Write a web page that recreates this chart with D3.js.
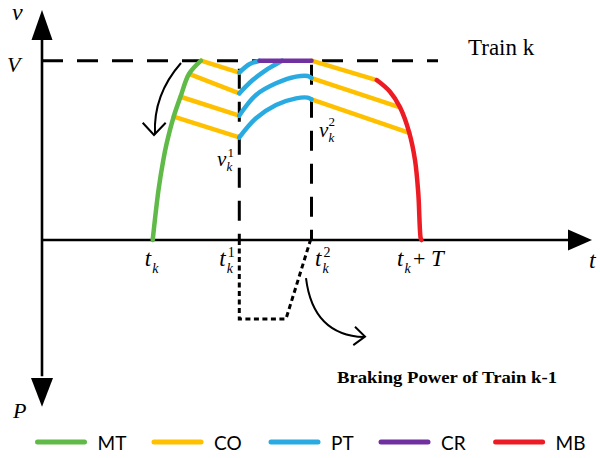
<!DOCTYPE html>
<html><head><meta charset="utf-8">
<script src="https://cdn.jsdelivr.net/npm/d3@7"></script>
<style>body{margin:0;background:#fff}svg{display:block}</style>
</head><body>
<svg id="c" width="600" height="458"></svg>
<script>
// ---- data (time units, speed as fraction of V) ----
const speedV = 1;
const tickNames = ["t_k", "t_k^1", "t_k^2", "t_k + T"];
const tickTimes = [110.7, 197.3, 269.5, 379.5];
const mtCurve = [[110.7,0],[116.5,0.279],[121.3,0.446],[124.7,0.539],[131.7,0.688],[138.5,0.799],[147,0.926],[159,1]];
const coLeft = [
  [[159,1],[197.3,0.934]],
  [[147,0.926],[197.3,0.818]],
  [[138.5,0.799],[197.3,0.694]],
  [[131.7,0.688],[197.3,0.572]]
];
const ptCurves = [
  [[197.3,0.934],[207.3,0.98],[217.5,1]],
  [[197.3,0.818],[210.7,0.892],[224,0.948],[237.3,0.991],[240,1]],
  [[197.3,0.694],[214,0.809],[234,0.874],[254,0.911],[265.7,0.915],[269.5,0.903]],
  [[197.3,0.572],[214,0.679],[234,0.753],[254,0.790],[265.7,0.794],[269.5,0.784]]
];
const crLine = [[217.5,1],[269.5,1]];
const coRight = [
  [[269.5,1],[334.7,0.892]],
  [[269.5,0.903],[358,0.740]],
  [[269.5,0.784],[367.3,0.598]]
];
const mbCurve = [[334.7,0.892],[348,0.827],[358,0.740],[367.3,0.598],[373,0.446],[376.3,0.260],[378.7,0.01],[379.5,0]];
const brakingPower = [[197.3,0],[197.3,-0.44],[244,-0.44],[268.5,0]];
const legendNames = ["MT", "CO", "PT", "CR", "MB"];
const legendColors = ["#5FBA48", "#FFC000", "#29ABE2", "#7030A0", "#ED1C24"];

// ---- scales ----
const x = d3.scaleLinear().domain([0, 548]).range([42, 590]);
const y = d3.scaleLinear().domain([0, 1]).range([240, 60.7]);
const svg = d3.select("#c");
const line = d3.line().x(d => x(d[0])).y(d => y(d[1]));
const smooth = d3.line().x(d => x(d[0])).y(d => y(d[1])).curve(d3.curveCatmullRom.alpha(0.5));
const col = n => legendColors[legendNames.indexOf(n)];
const serif = "'Liberation Serif','Times New Roman',serif";

// ---- dashed guides ----
svg.append("path").attr("d", line([[0,speedV],[396,speedV]]))
  .attr("stroke","#000").attr("stroke-width",3).attr("stroke-dasharray","21,14").attr("fill","none");
svg.append("path").attr("d", line([[tickTimes[1],0.955],[tickTimes[1],0]]))
  .attr("stroke","#000").attr("stroke-width",3).attr("stroke-dasharray","20,13").attr("fill","none");
svg.append("path").attr("d", line([[tickTimes[2],speedV],[tickTimes[2],0]]))
  .attr("stroke","#000").attr("stroke-width",3).attr("stroke-dasharray","20,13").attr("stroke-dashoffset",-4).attr("fill","none");
svg.append("path").attr("d", line(brakingPower))
  .attr("stroke","#000").attr("stroke-width",3).attr("stroke-dasharray","5,3.5").attr("fill","none");

// ---- axes ----
const ax = svg.append("g");
ax.append("line").attr("x1",x(0)).attr("x2",x(0)).attr("y1",y(1.25)).attr("y2",y(-0.76))
  .attr("stroke","#000").attr("stroke-width",2.6);
ax.append("line").attr("x1",x(0)).attr("x2",x(530)).attr("y1",y(0)).attr("y2",y(0))
  .attr("stroke","#000").attr("stroke-width",2.6);
const tri = (pts) => ax.append("path").attr("d","M"+pts.map(p=>p.join(",")).join("L")+"Z").attr("fill","#000");
tri([[x(0),y(1.283)],[x(0)-10.5,y(1.116)],[x(0)+10.5,y(1.116)]]);
tri([[x(0),y(-0.93)],[x(0)-11,y(-0.77)],[x(0)+11,y(-0.77)]]);
tri([[x(550),y(0)],[x(526),y(0)-10.5],[x(526),y(0)+10.5]]);

// ---- trajectories ----
const draw = (d, c, gen) => svg.append("path").attr("d", gen(d)).attr("stroke", c)
  .attr("stroke-width", 4.5).attr("fill","none").attr("stroke-linecap","round").attr("stroke-linejoin","round");
coLeft.forEach(s => draw(s, col("CO"), line));
coRight.forEach(s => draw(s, col("CO"), line));
ptCurves.forEach(s => draw(s, col("PT"), smooth));
draw(crLine, col("CR"), line);
draw(mtCurve, col("MT"), smooth);
draw(mbCurve, col("MB"), smooth);

// ---- curved arrows ----
const arrow = (p0, c, p1, head) => {
  const P = p => [x(p[0]), y(p[1])];
  const a = P(p0), b = P(c), e = P(p1);
  svg.append("path").attr("d", `M${a}Q${b} ${e}`).attr("stroke","#000").attr("stroke-width",2).attr("fill","none");
  svg.append("path").attr("d", "M" + head.map(P).join("L")).attr("stroke","#000").attr("stroke-width",2).attr("fill","none");
};
arrow([139,0.987],[111,0.809],[113,0.589], [[100.7,0.654],[112,0.586],[123.7,0.654]]);
arrow([264,-0.212],[271,-0.53],[322,-0.541], [[313,-0.484],[323,-0.539],[311.3,-0.586]]);

// ---- text ----
const txt = (tx, ty, s, size, opts = {}) => svg.append("text").attr("x", tx).attr("y", ty).text(s)
  .attr("font-family", opts.family || serif).attr("font-size", size)
  .attr("font-style", opts.italic ? "italic" : "normal").attr("font-weight", opts.bold ? "bold" : "normal")
  .attr("text-anchor", opts.anchor || "start").attr("fill", "#000");

txt(12, 20, "v", 24, {italic:true});
txt(7, 72, "V", 22, {italic:true});
txt(13, 418, "P", 22, {italic:true});
txt(589, 268, "t", 24, {italic:true});
txt(468, 55, "Train k", 23);
txt(337, 383, "Braking Power of Train k-1", 17.5, {bold:true}).attr("textLength", 220).attr("lengthAdjust","spacingAndGlyphs");

// tick labels
const offs = [-8, -20, 3.5, -24.5];
tickNames.forEach((n, i) => {
  const bx = x(tickTimes[i]) + offs[i];
  txt(bx, 266, "t", 23, {italic:true});
  txt(bx + 7.5, 273, "k", 14, {italic:true});
  const m = n.match(/\^(\d)/);
  if (m) txt(bx + 8.5, 257, m[1], 14);
  if (n.includes("+ T")) { txt(bx + 16, 266, "+", 22); txt(bx + 34, 266, "T", 23, {italic:true}); }
});
// v_k labels
txt(217, 166, "v", 21, {italic:true}); txt(226.5, 171, "k", 13, {italic:true}); txt(227.5, 157, "1", 13);
txt(319, 137, "v", 21, {italic:true}); txt(328.5, 142, "k", 13, {italic:true}); txt(328.5, 126, "2", 13);

// ---- legend ----
const legX = [37.5, 154, 271, 381, 495.6];
legendNames.forEach((n, i) => {
  svg.append("line").attr("x1", legX[i]).attr("x2", legX[i] + 47).attr("y1", 442).attr("y2", 442)
    .attr("stroke", legendColors[i]).attr("stroke-width", 5).attr("stroke-linecap","round");
  txt(legX[i] + 60, 449.5, n, 19, {family: "Lato, 'Open Sans', sans-serif"});
});
</script>
</body></html>
